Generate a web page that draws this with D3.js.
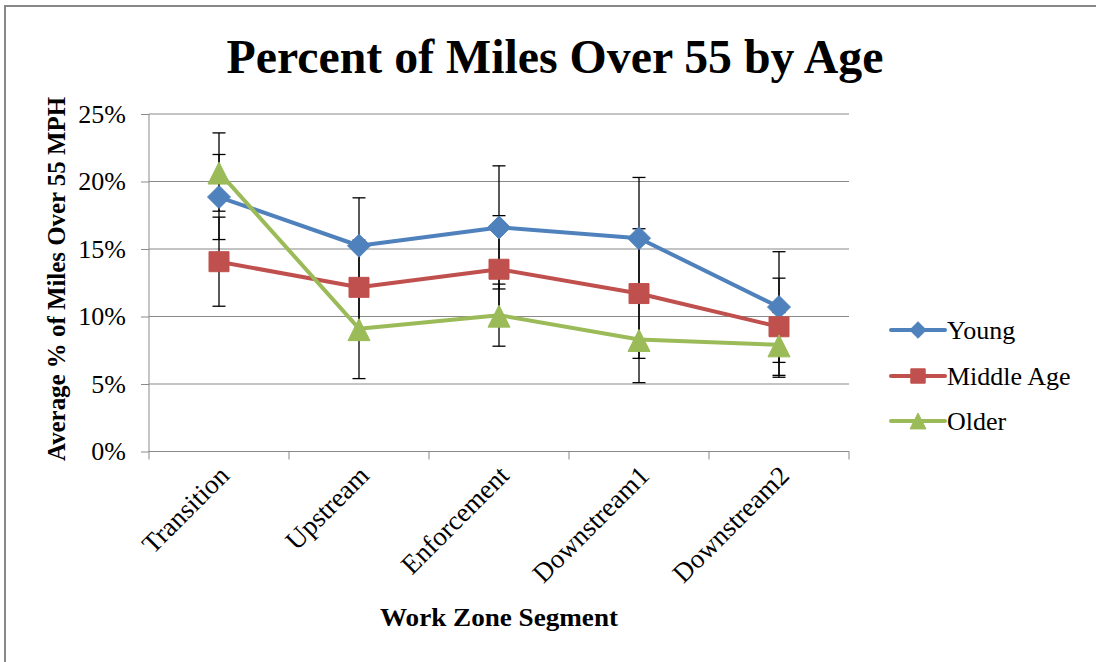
<!DOCTYPE html>
<html>
<head>
<meta charset="utf-8">
<script src="https://cdn.jsdelivr.net/npm/d3@7"></script>
<style>
  html, body { margin: 0; padding: 0; background: #fff; }
  svg { display: block; }
  svg text { font-family: "Liberation Serif", "Times New Roman", serif; fill: #000; }
</style>
</head>
<body>
<svg id="chart" width="1096" height="662"></svg>
<script>
// ---- data ----
const categories = ["Transition", "Upstream", "Enforcement", "Downstream1", "Downstream2"];
const seriesNames = ["Young", "Middle Age", "Older"];
const youngValues = [18.85, 15.24, 16.6, 15.8, 10.7];
const youngErrors = [3.15, 3.55, 4.56, 4.5, 4.1];
const middleValues = [14.06, 12.16, 13.5, 11.7, 9.24];
const middleErrors = [3.3, 3.5, 3.97, 4.8, 3.6];
const olderValues = [20.7, 9.1, 10.1, 8.3, 7.9];
const olderErrors = [2.9, 3.7, 2.3, 3.2, 2.4];
const yTicks = [0, 5, 10, 15, 20, 25];
const titleText = "Percent of Miles Over 55 by Age";
const yTitle = "Average % of Miles  Over 55 MPH";
const xTitle = "Work Zone Segment";

const colors = ["#4F81BD", "#C0504D", "#9BBB59"];
const markers = ["diamond", "square", "triangle"];
const series = [
  { name: seriesNames[0], values: youngValues, errors: youngErrors },
  { name: seriesNames[1], values: middleValues, errors: middleErrors },
  { name: seriesNames[2], values: olderValues, errors: olderErrors }
];

const svg = d3.select("#chart");
const plot = { left: 149, right: 849, top: 114, bottom: 451.5 };
const serifFont = "'Liberation Serif', 'Times New Roman', serif";

// outer frame
svg.append("rect").attr("x", 5).attr("y", 6).attr("width", 1200).attr("height", 800)
  .attr("fill", "none").attr("stroke", "#888").attr("stroke-width", 2);

const x = d3.scaleBand().domain(categories).range([plot.left, plot.right]).padding(0);
const y = d3.scaleLinear().domain([0, 25]).range([plot.bottom, plot.top]);
const cx = c => x(c) + x.bandwidth() / 2;

// custom marker shapes (size = full width in px)
const symDiamond = { draw(ctx, s) { const h = s / 2; ctx.moveTo(0, -h); ctx.lineTo(h, 0); ctx.lineTo(0, h); ctx.lineTo(-h, 0); ctx.closePath(); } };
const symSquare = { draw(ctx, s) { const h = s / 2; ctx.rect(-h, -h, s, s); } };
const symTriangle = { draw(ctx, s) { const h = s / 2; ctx.moveTo(0, -h); ctx.lineTo(h, h); ctx.lineTo(-h, h); ctx.closePath(); } };
const symTypes = { diamond: symDiamond, square: symSquare, triangle: symTriangle };
const symSizes = { diamond: 23, square: 20, triangle: 22 };

// gridlines
svg.append("g").selectAll("line").data(yTicks.filter(t => t > 0)).join("line")
  .attr("x1", plot.left).attr("x2", plot.right)
  .attr("y1", d => y(d)).attr("y2", d => y(d))
  .attr("stroke", "#898989").attr("stroke-width", 1);

// y axis
const yAxis = d3.axisLeft(y).tickValues(yTicks).tickSize(8).tickFormat(d => d + "%");
const gy = svg.append("g").attr("transform", `translate(${plot.left},0)`).call(yAxis)
  .attr("font-family", null).attr("font-size", null);
gy.select(".domain").attr("stroke", "#898989").attr("d", `M0,${plot.top}V${plot.bottom}`);
gy.selectAll(".tick line").attr("stroke", "#898989");
gy.selectAll(".tick text").style("font-size", "26px").style("font-family", serifFont)
  .attr("fill", "#000").attr("x", -23);

// x axis
const gx = svg.append("g").attr("transform", `translate(0,${plot.bottom})`);
gx.append("line").attr("x1", plot.left).attr("x2", plot.right).attr("y1", 0).attr("y2", 0)
  .attr("stroke", "#898989");
const boundaries = categories.map(c => x(c)).concat([plot.right]);
gx.selectAll("line.tk").data(boundaries).join("line").attr("class", "tk")
  .attr("x1", d => d).attr("x2", d => d).attr("y1", 0).attr("y2", 8)
  .attr("stroke", "#898989");
gx.selectAll("text").data(categories).join("text")
  .attr("transform", d => `translate(${cx(d) + 5},${19}) rotate(-45)`)
  .attr("text-anchor", "end")
  .style("font-size", "27px").style("font-family", serifFont)
  .attr("dy", "0.35em")
  .text(d => d);

// lines
const line = d3.line().x((d, i) => cx(categories[i])).y(d => y(d));
series.forEach((s, si) => {
  svg.append("path").datum(s.values).attr("d", line)
    .attr("fill", "none").attr("stroke", colors[si]).attr("stroke-width", 4)
    .attr("stroke-linejoin", "round");
});

// error bars
const cap = 6.5;
series.forEach((s, si) => {
  const g = svg.append("g").attr("stroke", "#000").attr("stroke-width", 1.3);
  s.values.forEach((v, i) => {
    const xc = cx(categories[i]);
    const hi = y(v + s.errors[i]), lo = y(v - s.errors[i]);
    g.append("line").attr("x1", xc).attr("x2", xc).attr("y1", hi).attr("y2", lo);
    g.append("line").attr("x1", xc - cap).attr("x2", xc + cap).attr("y1", hi).attr("y2", hi);
    g.append("line").attr("x1", xc - cap).attr("x2", xc + cap).attr("y1", lo).attr("y2", lo);
  });
});

// markers
series.forEach((s, si) => {
  const m = markers[si];
  svg.append("g").selectAll("path").data(s.values).join("path")
    .attr("transform", (d, i) => `translate(${cx(categories[i])},${y(d) + (m === "triangle" ? 1 : 0)})`)
    .attr("d", d3.symbol(symTypes[m], symSizes[m])())
    .attr("fill", colors[si]).attr("stroke", colors[si]).attr("stroke-width", 1)
    .attr("stroke-linejoin", "round");
});

// legend
const legY = [330, 376, 421];
const lg = svg.append("g");
series.forEach((s, si) => {
  const ly = legY[si];
  const m = markers[si];
  lg.append("line").attr("x1", 891).attr("x2", 945).attr("y1", ly).attr("y2", ly)
    .attr("stroke", colors[si]).attr("stroke-width", 4).attr("stroke-linecap", "round");
  lg.append("path").attr("transform", `translate(918,${ly})`)
    .attr("d", d3.symbol(symTypes[m], symSizes[m] * 0.72)())
    .attr("fill", colors[si]).attr("stroke", colors[si]);
  lg.append("text").attr("x", 947).attr("y", ly).attr("dy", "0.33em")
    .style("font-size", "26px").text(s.name);
});

// title
svg.append("text").attr("x", 555).attr("y", 73).attr("text-anchor", "middle")
  .style("font-size", "48px").attr("font-weight", "bold")
  .attr("textLength", 657).attr("lengthAdjust", "spacingAndGlyphs")
  .text(titleText);

// axis titles
svg.append("text").attr("transform", `translate(65,${(97 + 461) / 2}) rotate(-90)`)
  .attr("text-anchor", "middle").style("font-size", "25px").attr("font-weight", "bold")
  .attr("textLength", 364).attr("lengthAdjust", "spacingAndGlyphs")
  .text(yTitle);
svg.append("text").attr("x", 499).attr("y", 626).attr("text-anchor", "middle")
  .style("font-size", "26px").attr("font-weight", "bold")
  .attr("textLength", 238).attr("lengthAdjust", "spacingAndGlyphs")
  .text(xTitle);
</script>
</body>
</html>
